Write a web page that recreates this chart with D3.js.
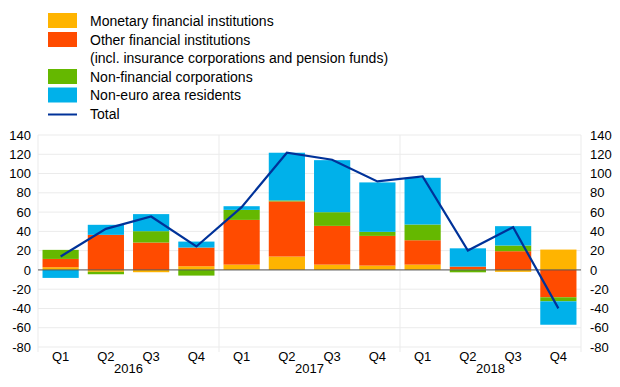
<meta charset="utf-8">
<script src="https://cdnjs.cloudflare.com/ajax/libs/d3/7.8.5/d3.min.js"></script>

<style>
  body { margin: 0; background: #fff; }
  text { font-family: "Liberation Sans", Arial, sans-serif; fill: #000; }
</style>

<div id="container"></div>

<script>
var quarters = ["Q1", "Q2", "Q3", "Q4", "Q1", "Q2", "Q3", "Q4", "Q1", "Q2", "Q3", "Q4"];
var years = ["2016", "2017", "2018"];

// net purchases by sector (EUR billions)
var mfi     = [2.8, -2.0, -2.4, 3.8, 5.5, 13.9, 5.5, 4.5, 5.5, 0.8, -2.0, 21.1];
var ofi     = [8.6, 36.4, 28.4, 19.4, 46.4, 57.2, 40.2, 30.8, 25.3, 2.6, 19.4, -28.4];
var nfc     = [9.4, -2.5, 11.8, -5.9, 10.4, 1.0, 14.2, 4.2, 16.3, -2.5, 5.9, -4.2];
var nonEuro = [-8.3, 10.4, 17.7, 6.2, 3.8, 49.5, 54.0, 51.3, 48.5, 19.0, 20.1, -24.3];
var total   = [13.9, 42.6, 55.4, 24.3, 65.1, 121.6, 114.3, 91.8, 97.0, 20.1, 44.3, -39.9];

var yTicks = [-80, -60, -40, -20, 0, 20, 40, 60, 80, 100, 120, 140];

var seriesNames = ["Monetary financial institutions", "Other financial institutions", "Non-financial corporations", "Non-euro area residents"];
var colors = ["#ffb400", "#ff4b00", "#65b800", "#00b1ea"];
var lineColor = "#003299";

var W = 620, H = 387;
var plotLeft = 38, plotRight = 581, plotTop = 135, plotBottom = 347;

var svg = d3.select("#container").append("svg")
  .attr("width", W)
  .attr("height", H);

// table for stacking
var keys = ["mfi", "ofi", "nfc", "nonEuro"];
var rows = quarters.map(function (q, i) {
  return { i: i, mfi: mfi[i], ofi: ofi[i], nfc: nfc[i], nonEuro: nonEuro[i] };
});
var stacked = d3.stack().keys(keys).offset(d3.stackOffsetDiverging)(rows);

var xscale = d3.scaleBand()
  .domain(d3.range(quarters.length))
  .range([plotLeft, plotRight])
  .paddingInner(0.2)
  .paddingOuter(0.1);

var yscale = d3.scaleLinear()
  .domain([-80, 140])
  .range([plotBottom, plotTop]);

// horizontal grid
svg.append("g")
  .selectAll("line")
  .data(yTicks)
  .enter()
  .append("line")
    .attr("x1", plotLeft)
    .attr("x2", plotRight)
    .attr("y1", function (d) { return yscale(d); })
    .attr("y2", function (d) { return yscale(d); })
    .attr("stroke", "#ebebeb")
    .attr("stroke-width", 1);

// vertical year separators
var step = (plotRight - plotLeft) / years.length;
svg.append("g")
  .selectAll("line")
  .data(d3.range(years.length + 1))
  .enter()
  .append("line")
    .attr("x1", function (d) { return plotLeft + d * step; })
    .attr("x2", function (d) { return plotLeft + d * step; })
    .attr("y1", plotTop)
    .attr("y2", plotBottom + 5)
    .attr("stroke", "#ebebeb")
    .attr("stroke-width", 1);

// bars
svg.append("g")
  .selectAll("g")
  .data(stacked)
  .enter()
  .append("g")
    .attr("fill", function (d, i) { return colors[i]; })
  .selectAll("rect")
  .data(function (d) { return d; })
  .enter()
  .append("rect")
    .attr("x", function (d) { return xscale(d.data.i); })
    .attr("width", xscale.bandwidth())
    .attr("y", function (d) { return yscale(Math.max(d[0], d[1])); })
    .attr("height", function (d) { return Math.abs(yscale(d[0]) - yscale(d[1])); });

// zero line
svg.append("line")
  .attr("x1", plotLeft)
  .attr("x2", plotRight)
  .attr("y1", yscale(0))
  .attr("y2", yscale(0))
  .attr("stroke", "#555")
  .attr("stroke-width", 1);

// total line
var line = d3.line()
  .x(function (d, i) { return xscale(i) + xscale.bandwidth() / 2; })
  .y(function (d) { return yscale(d); });
svg.append("path")
  .datum(total)
  .attr("d", line)
  .attr("fill", "none")
  .attr("stroke", lineColor)
  .attr("stroke-width", 2.2);

// y axes, both sides (plain hyphen for negatives)
var fmt = function (d) { return String(d); };
var yAxisL = d3.axisLeft(yscale).tickValues(yTicks).tickFormat(fmt).tickSize(0).tickPadding(7);
var yAxisR = d3.axisRight(yscale).tickValues(yTicks).tickFormat(fmt).tickSize(0).tickPadding(9);
svg.append("g").attr("transform", "translate(" + plotLeft + ",0)").call(yAxisL);
svg.append("g").attr("transform", "translate(" + plotRight + ",0)").call(yAxisR);
svg.selectAll(".domain").remove();
svg.selectAll(".tick text")
  .style("font-size", "13px")
  .style("font-family", "'Liberation Sans', Arial, sans-serif")
  .attr("fill", "#000");

// x labels
svg.append("g")
  .selectAll("text")
  .data(quarters)
  .enter()
  .append("text")
    .attr("x", function (d, i) { return xscale(i) + xscale.bandwidth() / 2; })
    .attr("y", 356)
    .attr("dy", "0.35em")
    .style("text-anchor", "middle")
    .style("font-size", "13px")
    .text(function (d) { return d; });

svg.append("g")
  .selectAll("text")
  .data(years)
  .enter()
  .append("text")
    .attr("x", function (d, i) { return plotLeft + (i + 0.5) * step; })
    .attr("y", 368.5)
    .attr("dy", "0.35em")
    .style("text-anchor", "middle")
    .style("font-size", "13px")
    .text(function (d) { return d; });

// legend
var legend = svg.append("g");
var swatchY = [13, 32, 69, 87.5];
legend.selectAll("rect")
  .data(colors)
  .enter()
  .append("rect")
    .attr("x", 48)
    .attr("y", function (d, i) { return swatchY[i]; })
    .attr("width", 29)
    .attr("height", 15)
    .attr("fill", function (d) { return d; });

legend.append("line")
  .attr("x1", 48)
  .attr("x2", 77)
  .attr("y1", 114.5)
  .attr("y2", 114.5)
  .attr("stroke", lineColor)
  .attr("stroke-width", 2);

var legendText = [
  seriesNames[0],
  seriesNames[1],
  "(incl. insurance corporations and pension funds)",
  seriesNames[2],
  seriesNames[3],
  "Total"
];
var textY = [21, 40, 58.5, 77, 95.5, 114];
legend.selectAll("text")
  .data(legendText)
  .enter()
  .append("text")
    .attr("x", 90)
    .attr("y", function (d, i) { return textY[i]; })
    .attr("dy", "0.35em")
    .style("font-size", "14px")
    .text(function (d) { return d; });
</script>
